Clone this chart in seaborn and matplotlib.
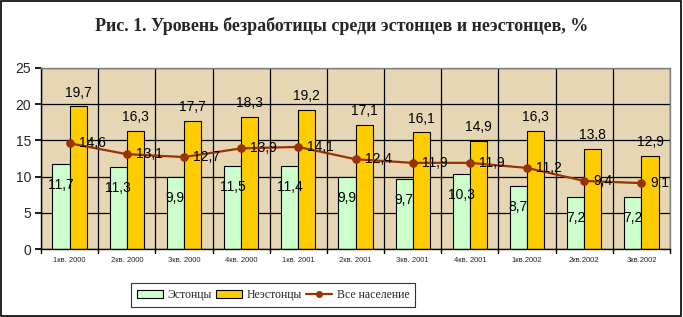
import matplotlib
matplotlib.use("Agg")
import matplotlib.pyplot as plt
import seaborn as sns
import pandas as pd
from matplotlib.patches import Patch, Rectangle
from matplotlib.lines import Line2D

quarters = ["1кв. 2000", "2кв. 2000", "3кв. 2000", "4кв. 2000", "1кв. 2001", "2кв. 2001",
            "3кв. 2001", "4кв. 2001", "1кв.2002", "2кв.2002", "3кв.2002"]
estonians = [11.7, 11.3, 9.9, 11.5, 11.4, 9.9, 9.7, 10.3, 8.7, 7.2, 7.2]
non_estonians = [19.7, 16.3, 17.7, 18.3, 19.2, 17.1, 16.1, 14.9, 16.3, 13.8, 12.9]
total = [14.6, 13.1, 12.7, 13.9, 14.1, 12.4, 11.9, 11.9, 11.2, 9.4, 9.1]
series_names = ["Эстонцы", "Неэстонцы", "Все население"]
colors = ["#CCFFCC", "#FFCC00", "#993300"]

df = pd.DataFrame({
    "quarter": quarters * 2,
    "value": estonians + non_estonians,
    "group": [series_names[0]] * len(quarters) + [series_names[1]] * len(quarters),
})
df_line = pd.DataFrame({"quarter": quarters, "value": total})

sns.set_theme(style="white")
plt.rcParams["font.family"] = ["Liberation Sans", "DejaVu Sans"]

fig = plt.figure(figsize=(6.83, 3.17), dpi=100)
ax = fig.add_axes([0.060, 0.2145, 0.921, 0.571])
ax.set_facecolor("#E6D6B4")

for y in range(0, 26, 5):
    ax.axhline(y, color="black", lw=0.9, zorder=0.5)
for i in range(len(quarters) + 1):
    ax.axvline(i - 0.5, color="black", lw=0.9, zorder=0.5)

sns.barplot(data=df, x="quarter", y="value", hue="group", order=quarters,
            palette=colors[:2], saturation=1, edgecolor="black", linewidth=0.8, width=0.6,
            ax=ax, legend=False, zorder=2)
sns.pointplot(data=df_line, x="quarter", y="value", order=quarters, color=colors[2],
              markers="o", markersize=5, linewidth=1.6, ax=ax, zorder=3)

for i in range(len(quarters)):
    ax.text(i - 0.15, estonians[i] - 2.9, f"{estonians[i]:.1f}".replace(".", ","),
            ha="center", va="center", fontsize=10, color="black", zorder=4)
    ax.text(i + 0.15, non_estonians[i] + 1.9, f"{non_estonians[i]:.1f}".replace(".", ","),
            ha="center", va="center", fontsize=10, color="black", zorder=4)
    ax.text(i + 0.16, total[i], f"{total[i]:.1f}".replace(".", ","),
            ha="left", va="center", fontsize=10, color="black", zorder=4)

ax.set_xlim(-0.5, len(quarters) - 0.5)
ax.set_ylim(0, 25)
ax.set_yticks(range(0, 26, 5))
ax.set_xlabel("")
ax.set_ylabel("")
ax.tick_params(axis="y", labelsize=10, length=4, direction="out", left=True, color="black", pad=3)
ax.tick_params(axis="x", labelsize=5.5, length=0, pad=6)
for s in ["top", "right"]:
    ax.spines[s].set_color("#808080")
    ax.spines[s].set_linewidth(1.0)
for s in ["left", "bottom"]:
    ax.spines[s].set_color("black")
    ax.spines[s].set_linewidth(1.0)
for i in range(len(quarters) + 1):
    ax.plot([i - 0.5, i - 0.5], [0, -0.6], color="black", lw=1.0, clip_on=False)

fig.suptitle("Рис. 1. Уровень безработицы среди эстонцев и неэстонцев, %",
             x=0.5, y=0.945, fontsize=13, fontweight="bold",
             family=["Liberation Serif", "DejaVu Serif"])

handles = [Patch(facecolor=colors[0], edgecolor="black", linewidth=0.8),
           Patch(facecolor=colors[1], edgecolor="black", linewidth=0.8),
           Line2D([], [], color=colors[2], marker="o", markersize=4, linewidth=1.6)]
leg = fig.legend(handles, series_names, loc="center", bbox_to_anchor=(0.40, 0.069),
                 ncol=3, frameon=True, fancybox=False, edgecolor="black",
                 prop={"family": ["Liberation Serif", "DejaVu Serif"], "size": 8.5},
                 handlelength=2.2, handletextpad=0.35, columnspacing=0.4,
                 borderpad=0.5)
leg.get_frame().set_linewidth(0.8)

fig.patches.append(Rectangle((0.002, 0.004), 0.995, 0.992, transform=fig.transFigure,
                             fill=False, edgecolor="black", linewidth=1.2))

fig.savefig("out.png", dpi=100, facecolor="white")
